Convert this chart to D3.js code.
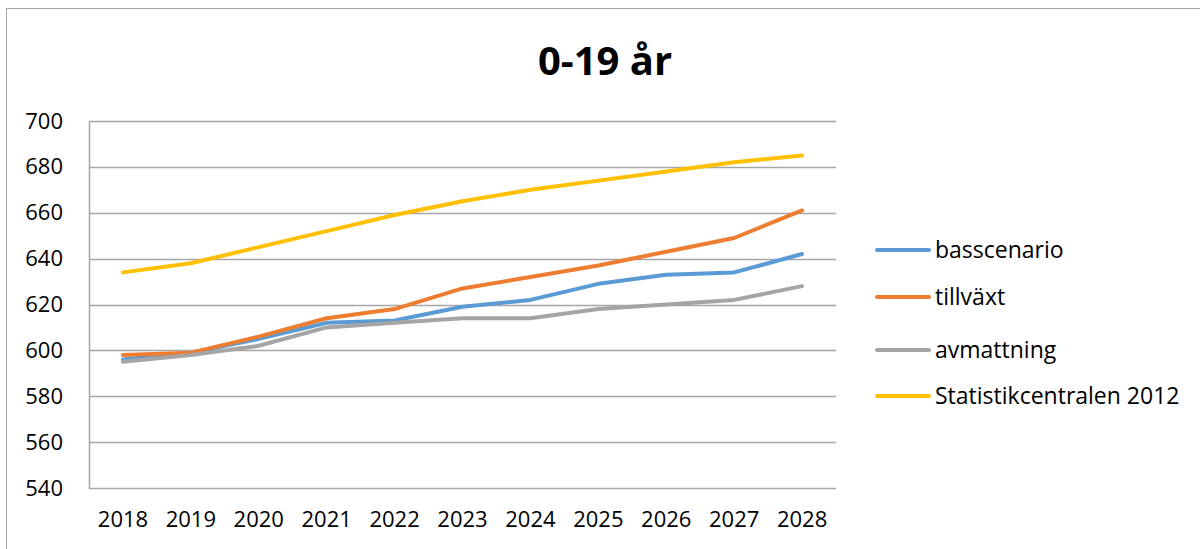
<!DOCTYPE html>
<html>
<head>
<meta charset="utf-8">
<script src="https://cdn.jsdelivr.net/npm/d3@7"></script>
<style>
  body { margin: 0; background: #fff; }
  svg { display: block; font-family: "Open Sans", sans-serif; }
</style>
</head>
<body>
<div id="chart"></div>
<script>
const years = [2018, 2019, 2020, 2021, 2022, 2023, 2024, 2025, 2026, 2027, 2028];
const basscenario = [596, 599, 605, 612, 613, 619, 622, 629, 633, 634, 642];
const tillvaxt = [598, 599, 606, 614, 618, 627, 632, 637, 643, 649, 661];
const avmattning = [595, 598, 602, 610, 612, 614, 614, 618, 620, 622, 628];
const statistikcentralen = [634, 638, 645, 652, 659, 665, 670, 674, 678, 682, 685];
const yTicks = [540, 560, 580, 600, 620, 640, 660, 680, 700];

const seriesNames = ["basscenario", "tillväxt", "avmattning", "Statistikcentralen 2012"];
const seriesColors = ["#5b9bd5", "#ed7d31", "#a5a5a5", "#ffc000"];
const series = [basscenario, tillvaxt, avmattning, statistikcentralen].map((values, i) => ({
  name: seriesNames[i],
  color: seriesColors[i],
  values: values.map((v, j) => ({ year: years[j], value: v }))
}));

const width = 1200, height = 549;
const margin = { top: 121, right: 364, bottom: 61, left: 89 };
const innerW = width - margin.left - margin.right;
const innerH = height - margin.top - margin.bottom;

const svg = d3.select("#chart").append("svg")
    .attr("width", width)
    .attr("height", height);

// outer chart border
svg.append("rect")
    .attr("x", 6.5)
    .attr("y", 8.5)
    .attr("width", width)
    .attr("height", height)
    .attr("fill", "none")
    .attr("stroke", "#a6a6a6")
    .attr("stroke-width", 1);

// title
svg.append("text")
    .attr("x", 605)
    .attr("y", 75)
    .attr("text-anchor", "middle")
    .attr("font-size", "40px")
    .attr("font-weight", "bold")
    .attr("fill", "#000")
    .text("0-19 år");

const g = svg.append("g")
    .attr("transform", `translate(${margin.left}, ${margin.top})`);

const x = d3.scaleBand()
    .domain(years)
    .range([0, innerW]);

const y = d3.scaleLinear()
    .domain([540, 700])
    .range([innerH, 0]);

// gridlines
g.append("g")
    .selectAll("line")
    .data(yTicks)
    .join("line")
      .attr("x1", 0)
      .attr("x2", innerW)
      .attr("y1", d => Math.round(y(d)) + 0.5)
      .attr("y2", d => Math.round(y(d)) + 0.5)
      .attr("stroke", "#a6a6a6")
      .attr("stroke-width", 1.5);

// y axis
g.append("g")
    .call(d3.axisLeft(y).tickValues(yTicks).tickSize(0).tickPadding(26))
    .call(a => a.select(".domain").attr("stroke", "#a6a6a6").attr("stroke-width", 1.5))
    .call(a => a.selectAll("text")
        .attr("font-family", "Open Sans, sans-serif")
        .attr("font-size", "22px")
        .attr("fill", "#000"));

// x axis
g.append("g")
    .attr("transform", `translate(0, ${innerH})`)
    .call(d3.axisBottom(x).tickSize(0).tickPadding(23))
    .call(a => a.select(".domain").remove())
    .call(a => a.selectAll("text")
        .attr("font-family", "Open Sans, sans-serif")
        .attr("font-size", "22px")
        .attr("fill", "#000"));

// lines
const line = d3.line()
    .x(d => x(d.year) + x.bandwidth() / 2)
    .y(d => y(d.value));

g.selectAll(".series")
  .data(series)
  .join("path")
    .attr("class", "series")
    .attr("d", d => line(d.values))
    .attr("fill", "none")
    .attr("stroke", d => d.color)
    .attr("stroke-width", 4)
    .attr("stroke-linecap", "round")
    .attr("stroke-linejoin", "round");

// legend
const legendY = [250, 297, 350, 396];
const legend = svg.append("g")
  .selectAll("g")
  .data(series)
  .join("g")
    .attr("transform", (d, i) => `translate(877, ${legendY[i]})`);

legend.append("line")
    .attr("x1", 0)
    .attr("x2", 52)
    .attr("stroke", d => d.color)
    .attr("stroke-width", 4)
    .attr("stroke-linecap", "round");

legend.append("text")
    .attr("x", 58)
    .attr("dy", "0.35em")
    .attr("font-size", "23px")
    .attr("fill", "#000")
    .text(d => d.name);
</script>
</body>
</html>
